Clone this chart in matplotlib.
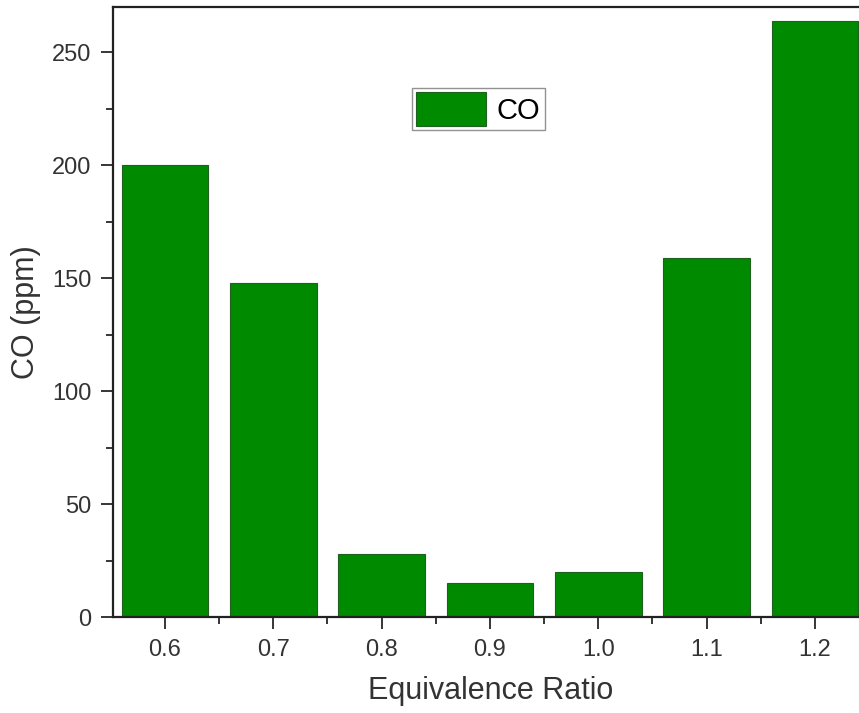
import matplotlib
matplotlib.use("Agg")
import matplotlib.pyplot as plt
from matplotlib.ticker import MultipleLocator

ratios = ["0.6", "0.7", "0.8", "0.9", "1.0", "1.1", "1.2"]
x_vals = [0.6, 0.7, 0.8, 0.9, 1.0, 1.1, 1.2]
co_ppm = [200, 148, 28, 15, 20, 159, 264]

plt.rcParams["font.family"] = ["Liberation Sans", "DejaVu Sans"]

fig = plt.figure(figsize=(8.59, 7.13), dpi=100)
ax = fig.add_axes([113 / 859, 1 - 617 / 713, (869 - 113) / 859, (617 - 7) / 713])

ax.bar(x_vals, co_ppm, width=0.08, color="#008a00", edgecolor="#1f5f1f",
       linewidth=0.8, label="CO")

ax.set_xlim(0.552, 1.25)
ax.set_ylim(0, 270)
ax.set_xticks(x_vals)
ax.set_xticklabels(ratios)
ax.xaxis.set_minor_locator(MultipleLocator(0.05))
ax.yaxis.set_major_locator(MultipleLocator(50))
ax.yaxis.set_minor_locator(MultipleLocator(25))
ax.tick_params(which="major", direction="out", length=8.5, width=1.1,
               labelsize=17, labelcolor="#333333", pad=7)
ax.tick_params(which="minor", direction="out", length=5, width=1.1)
for s in ax.spines.values():
    s.set_linewidth(1.6)
    s.set_color("#222222")

ax.set_xlabel("Equivalence Ratio", fontsize=22, color="#333333", labelpad=11)
ax.set_ylabel("CO (ppm)", fontsize=22, color="#333333", labelpad=8)

ax.legend(loc="upper left", bbox_to_anchor=(412 / 859, 1 - 88 / 713),
          bbox_transform=fig.transFigure, borderaxespad=0, fontsize=21,
          fancybox=False, edgecolor="#777777", handlelength=2.4,
          handleheight=1.4, borderpad=0.15, handletextpad=0.35)

fig.savefig("out.png", dpi=100)
